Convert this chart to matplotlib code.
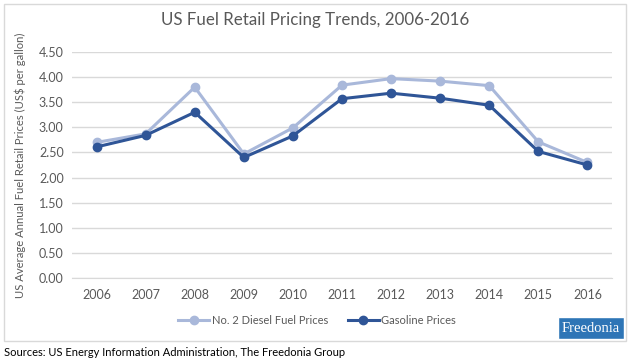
import matplotlib.pyplot as plt
from matplotlib.patches import Rectangle

# data
years = [2006, 2007, 2008, 2009, 2010, 2011, 2012, 2013, 2014, 2015, 2016]
diesel = [2.70, 2.87, 3.80, 2.47, 2.99, 3.84, 3.97, 3.92, 3.83, 2.71, 2.30]
gasoline = [2.61, 2.84, 3.30, 2.40, 2.83, 3.57, 3.68, 3.58, 3.44, 2.52, 2.25]
yticks = [0, 0.5, 1.0, 1.5, 2.0, 2.5, 3.0, 3.5, 4.0, 4.5]

plt.rcParams['font.family'] = ['Lato', 'DejaVu Sans']
text_col = '#595959'

fig = plt.figure(figsize=(6.31, 3.63), dpi=100)
W, H = 631, 363

# chart frame
fig.patches.append(Rectangle((4 / W, 1 - 341 / H), 622 / W, 337 / H,
                             transform=fig.transFigure, fill=False,
                             edgecolor='#d9d9d9', linewidth=1))

ax = fig.add_axes([72 / W, 1 - 278 / H, 540 / W, 226 / H])
x = list(range(len(years)))
ax.plot(x, diesel, color='#a9b8da', linewidth=2.2, marker='o', markersize=6,
        label='No. 2 Diesel Fuel Prices', zorder=3)
ax.plot(x, gasoline, color='#2f5597', linewidth=2.2, marker='o', markersize=6,
        label='Gasoline Prices', zorder=4)

ax.set_xlim(-0.5, len(years) - 0.5)
ax.set_ylim(0, 4.5)
ax.set_yticks(yticks)
ax.set_yticklabels([f'{v:.2f}' for v in yticks])
ax.set_xticks(x)
ax.set_xticklabels([str(y) for y in years])
ax.grid(axis='y', color='#d9d9d9', linewidth=1)
ax.set_axisbelow(True)
for s in ['top', 'right', 'left']:
    ax.spines[s].set_visible(False)
ax.spines['bottom'].set_color('#d9d9d9')
ax.tick_params(length=0, labelsize=9, colors=text_col, pad=8)
ax.tick_params(axis='y', pad=6)
ax.set_ylabel('US Average Annual Fuel Retail Prices (US$ per gallon)',
              fontsize=8.1, color=text_col, labelpad=9)

fig.text(0.5, 1 - 20 / H, 'US Fuel Retail Pricing Trends, 2006-2016',
         ha='center', va='center', fontsize=12.2, color=text_col)

ax.legend(loc='center', bbox_to_anchor=((317 - 72) / 540, (1 - 320 / H - (1 - 278 / H)) / (226 / H)),
          ncol=2, frameon=False, fontsize=8, labelcolor=text_col,
          handlelength=2.8, columnspacing=1.8, handletextpad=0.2)

# Freedonia logo
fig.text(591 / W, 1 - 328 / H, 'Freedonia', ha='center', va='center',
         fontsize=10.5, color='white', family='Liberation Serif',
         bbox=dict(boxstyle='square,pad=0.3', facecolor='#2e75b6',
                   edgecolor='white', linewidth=1))

fig.text(4 / W, 1 - 352 / H, 'Sources: US Energy Information Administration, The Freedonia Group',
         ha='left', va='center', fontsize=8, color='black')

fig.savefig('out.png', dpi=100)
